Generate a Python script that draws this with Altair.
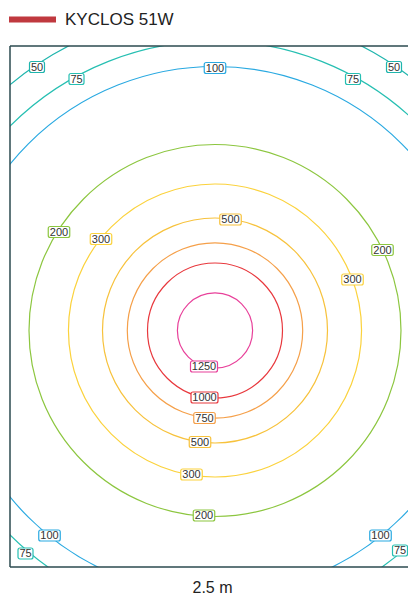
import altair as alt
import pandas as pd

# Contour levels (lux), radii in metres, colours
levels = [1250, 1000, 750, 500, 300, 200, 100, 75, 50]
radii_m = [0.752, 1.35, 1.754, 2.25, 2.93, 3.72, 5.28, 5.79, 6.40]
colors = ["#e8409a", "#e8383d", "#f5a04a", "#f7c23c", "#fbd23c",
          "#8cc63f", "#29a9e1", "#26bfb2", "#1fb5ad"]

# Label positions (m)
label_vals = [50, 75, 100, 75, 50, 500, 200, 300, 200, 300,
              1250, 1000, 750, 500, 300, 200, 100, 75, 100, 75]
label_x = [-3.56, -2.77, 0.0, 2.76, 3.58, 0.31, -3.12, -2.28, 3.35, 2.75,
           -0.22, -0.21, -0.21, -0.30, -0.47, -0.22, -3.31, -3.79, 3.31, 3.70]
label_y = [5.27, 5.03, 5.25, 5.03, 5.27, 2.22, 1.97, 1.83, 1.61, 1.02,
           -0.72, -1.34, -1.75, -2.23, -2.88, -3.70, -4.10, -4.46, -4.10, -4.40]

series = ["KYCLOS 51W"]
series_color = ["#c0393f"]
x_title = "2.5 m"

x_domain = [-4.1, 3.86]
y_domain = [-4.73, 5.69]

# frame edges: left, top, bottom (right edge runs off the page)
frame_x = [-4.1, -4.1, -4.1]
frame_x2 = [-4.1, 3.86, 3.86]
frame_y = [-4.73, 5.69, -4.73]
frame_y2 = [5.69, 5.69, -4.73]

contours = pd.DataFrame({"level": levels, "r": radii_m,
                         "cx": [0.0] * len(levels), "cy": [0.0] * len(levels)})
labels = pd.DataFrame({"level": label_vals, "x": label_x, "y": label_y})
labels["txt"] = labels["level"].astype(str)
labels["n"] = labels["txt"].str.len()
frame = pd.DataFrame({"x": frame_x, "x2": frame_x2, "y": frame_y, "y2": frame_y2})

level_scale = alt.Scale(domain=levels, range=colors)
xs = alt.Scale(domain=x_domain, nice=False, zero=False)
ys = alt.Scale(domain=y_domain, nice=False, zero=False)
x_axis = alt.Axis(labels=False, ticks=False, domain=False, grid=False,
                  title=x_title, titleFontSize=16, titleFont="Liberation Sans",
                  titleColor="#222", titleFontWeight="normal", titlePadding=12,
                  titleX=202)

arcs = alt.Chart(contours).mark_arc(
    theta=0, theta2=6.2832, fill="transparent", fillOpacity=0, strokeWidth=1.2, clip=True
).encode(
    x=alt.X("cx:Q", scale=xs, axis=x_axis),
    y=alt.Y("cy:Q", scale=ys, axis=None),
    radius=alt.Radius("r:Q", stack=None,
                      scale=alt.Scale(type="linear", domain=[0, 1], range=[0, 50], zero=True)),
    stroke=alt.Stroke("level:O", scale=level_scale, legend=None),
)

frame_layer = alt.Chart(frame).mark_rule(color="#2b4a4f", strokeWidth=1.5).encode(
    x=alt.X("x:Q", scale=xs), x2="x2:Q",
    y=alt.Y("y:Q", scale=ys), y2="y2:Q",
)

box_w = {2: 15, 3: 21.5, 4: 27}
boxes = []
for n, w in box_w.items():
    boxes.append(
        alt.Chart(labels).transform_filter(alt.datum.n == n).mark_rect(
            width=w, height=11, fill="white", strokeWidth=1.2, cornerRadius=2
        ).encode(
            x=alt.X("x:Q", scale=xs),
            y=alt.Y("y:Q", scale=ys),
            stroke=alt.Stroke("level:O", scale=level_scale, legend=None),
        )
    )

texts = alt.Chart(labels).mark_text(
    fontSize=11, font="Liberation Sans", color="#333", baseline="middle", align="center", dy=0.5
).encode(
    x=alt.X("x:Q", scale=xs),
    y=alt.Y("y:Q", scale=ys),
    text="txt:N",
)

legend_layer = alt.Chart(pd.DataFrame({"s": series})).mark_point(opacity=0).encode(
    stroke=alt.Stroke("s:N", scale=alt.Scale(domain=series, range=series_color),
                      legend=alt.Legend(orient="none", legendX=-4, legendY=-53, title=None,
                                        symbolType="stroke", symbolStrokeWidth=6,
                                        symbolSize=2209, symbolOpacity=1,
                                        labelFontSize=17, labelFont="Liberation Sans",
                                        labelColor="#222", labelOffset=6, padding=0))
)

chart = alt.layer(arcs, frame_layer, *boxes, texts, legend_layer).resolve_scale(stroke="independent").properties(
    width=398, height=521,
    padding={"left": 2, "top": 38, "right": 0, "bottom": 27},
    autosize=alt.AutoSizeParams(type="none"),
).configure_view(stroke=None)

chart.save("out.html", embed_options={"renderer": "svg", "actions": False})
